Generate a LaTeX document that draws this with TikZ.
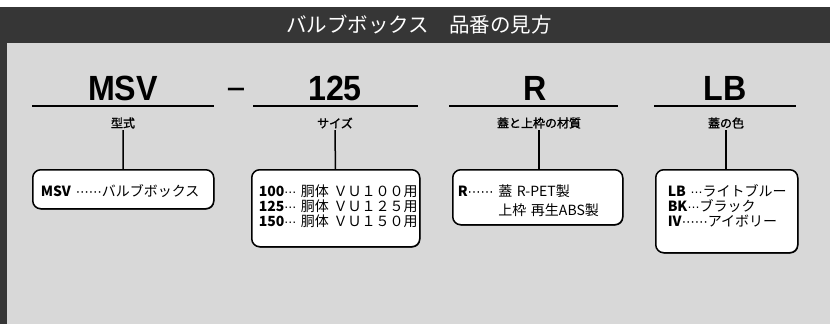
\documentclass[tikz,border=0pt]{standalone}
\usepackage{fontspec}
\usetikzlibrary{shadows}
\setmainfont{Liberation Sans}
\newfontfamily\jp{Noto Sans CJK JP}
\newfontfamily\jpbold[FakeBold=1.5]{Noto Sans CJK JP}
\newfontfamily\codefont[FakeStretch=0.92]{Liberation Sans}
\newfontfamily\dotfont{DejaVu Sans}
\newcommand{\dl}{{\dotfont\fontsize{12}{12}\selectfont ⋯}}
\newcommand{\ddl}{{\dotfont\fontsize{13}{13}\selectfont ⋯⋯}}
\definecolor{headgray}{HTML}{363636}
\definecolor{panelgray}{HTML}{D8D8D8}
\begin{document}
\begin{tikzpicture}[x=1pt,y=-1pt]

    \tikzstyle{codenode} = [anchor=base, inner sep=0, font=\codefont\bfseries\fontsize{35}{35}\selectfont];
    \tikzstyle{labelnode} = [inner sep=1.5pt, font=\jpbold\fontsize{12}{13}\selectfont];
    \tikzstyle{infobox} = [draw, line width=1.5pt, rounded corners=8pt, fill=white, anchor=north west,
                           drop shadow={shadow xshift=0.6pt, shadow yshift=-0.8pt, fill=black, opacity=0.8},
                           inner ysep=0, text height=26.5pt, align=left,
                           font=\jp\fontsize{14}{15}\selectfont];
    \tikzstyle{underline} = [line width=2pt];
    \tikzstyle{link} = [line width=1.5pt];

    \useasboundingbox (0,0) rectangle (830,324);

    % Header
    \fill[white] (0,0) rectangle (830,324);
    \fill[headgray] (0,7) rectangle (830,324);
    \fill[panelgray] (7,43) rectangle (830,324);
    \node[text=white, font=\jp\fontsize{20.5}{21}\selectfont] (title) at (419,25) {バルブボックス　品番の見方};

    % Code
    \node[codenode] (codeType) at (123,100) {MSV};
    \node[codenode, font=\codefont\fontsize{36}{36}\selectfont] (hyph) at (236,101) {−};
    \node[codenode] (codeSize) at (335,100) {125};
    \node[codenode] (codeMat) at (535,100) {R};
    \node[codenode] (codeColor) at (725,100) {LB};

    \draw [underline] (32,105.5) -- (214,105.5);
    \draw [underline] (253,105.5) -- (418,105.5);
    \draw [underline] (449,105.5) -- (618,105.5);
    \draw [underline] (654,105.5) -- (796,105.5);

    \node[labelnode] (labType) at (123,123) {型式};
    \node[labelnode] (labSize) at (335,123) {サイズ};
    \node[labelnode] (labMat) at (539,123) {蓋と上枠の材質};
    \node[labelnode] (labColor) at (726,123) {蓋の色};

    % Boxes
    \node[infobox, inner xsep=8pt, text width=165pt, text depth=12.5pt] (boxType) at (32,169)
        {\textbf{MSV}~\ddl バルブボックス};
    \node[infobox, inner xsep=7pt, text width=154pt, text depth=50.5pt] (boxSize) at (251,169)
        {\textbf{100}\dl~胴体~ＶＵ１００用\\
         \textbf{125}\dl~胴体~ＶＵ１２５用\\
         \textbf{150}\dl~胴体~ＶＵ１５０用};
    \node[infobox, inner xsep=5pt, text width=160pt, text depth=28.5pt] (boxMat) at (452,169)
        {\textbf{R}\ddl~蓋~R-PET製\\[4pt]
         \hphantom{\textbf{R}\ddl~}上枠~再生ABS製};
    \node[infobox, inner xsep=12pt, text width=118pt, text depth=56.5pt] (boxColor) at (655,169)
        {\textbf{LB}~\dl ライトブルー\\
         \textbf{BK}\dl ブラック\\
         \textbf{IV}\ddl アイボリー};

    \draw [link] (labType) -- (boxType);
    \draw [link] (labSize) -- (boxSize);
    \draw [link] (labMat.south) -- (labMat.south |- boxMat.north);
    \draw [link] (labColor) -- (labColor |- boxColor.north);

\end{tikzpicture}
\end{document}
